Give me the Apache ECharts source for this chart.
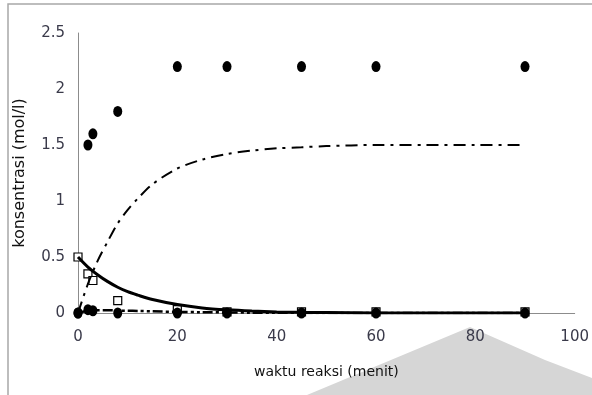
<!DOCTYPE html>
<html>
<head>
<meta charset="utf-8">
<script src="https://cdn.jsdelivr.net/npm/echarts@6/dist/echarts.min.js"></script>
<style>
  html, body { margin: 0; padding: 0; background: #fff; }
  #chart { width: 592px; height: 395px; }
</style>
</head>
<body>
<div id="chart"></div>
<script>
// waktu sampling (menit)
const waktu = [0, 2, 3, 8, 20, 30, 45, 60, 90];
// data eksperimen
const dataAtas = [0, 1.5, 1.6, 1.8, 2.2, 2.2, 2.2, 2.2, 2.2];
const dataKotak = [0.5, 0.35, 0.29, 0.11, 0.03, 0.01, 0.01, 0.01, 0.01];
const dataBawah = [0, 0.03, 0.02, 0, 0, 0, 0, 0, 0];
// kurva model
const waktuModel = [0, 2, 4, 6, 8, 10, 12, 15, 20, 25, 30, 35, 40, 45, 50, 60, 70, 80, 90];
const modelProduk = [0, 0.26, 0.47, 0.64, 0.8, 0.92, 1.02, 1.15, 1.29, 1.37, 1.42, 1.45, 1.47, 1.48, 1.49, 1.5, 1.5, 1.5, 1.5];
const modelReaktan = [0.5, 0.41, 0.34, 0.28, 0.23, 0.19, 0.16, 0.12, 0.075, 0.045, 0.028, 0.017, 0.01, 0.006, 0.004, 0.001, 0, 0, 0];
const modelAntara = [0, 0.02, 0.025, 0.025, 0.022, 0.02, 0.018, 0.015, 0.01, 0.007, 0.005, 0.003, 0.002, 0.001, 0, 0, 0, 0, 0];
const xTicks = [0, 20, 40, 60, 80, 100];
const yTicks = [0, 0.5, 1, 1.5, 2, 2.5];

const pasang = (xs, ys) => xs.map((x, i) => [x, ys[i]]);

const chart = echarts.init(document.getElementById('chart'));
const font = 'DejaVu Sans';

chart.setOption({
  animation: false,
  textStyle: { fontFamily: font },
  grid: { left: 78, right: 14, top: 33, bottom: 82 },
  graphic: [
    {
      type: 'polygon', z: -10, silent: true,
      shape: { points: [[307, 395], [470, 327], [545, 360], [592, 378], [592, 395]] },
      style: { fill: '#d6d6d6' }
    },
    {
      type: 'polyline', z: -5, silent: true,
      shape: { points: [[8, 395], [8, 4], [592, 4]] },
      style: { stroke: '#a8a8a8', lineWidth: 1.5, fill: null }
    }
  ],
  xAxis: {
    type: 'value', min: xTicks[0], max: xTicks[xTicks.length - 1], interval: 20,
    name: 'waktu reaksi (menit)', nameLocation: 'middle', nameGap: 52,
    nameTextStyle: { fontSize: 14, color: '#111', fontFamily: font },
    axisLine: { lineStyle: { color: '#8c8c8c', width: 1 } },
    axisTick: { show: false },
    splitLine: { show: false },
    axisLabel: { fontSize: 15, color: '#3a3a4a', margin: 17 }
  },
  yAxis: {
    type: 'value', min: yTicks[0], max: yTicks[yTicks.length - 1], interval: 0.5,
    name: 'konsentrasi (mol/l)', nameLocation: 'middle', nameGap: 50,
    nameTextStyle: { fontSize: 16, color: '#111', fontFamily: font },
    axisLine: { show: true, lineStyle: { color: '#8c8c8c', width: 1 } },
    axisTick: { show: false },
    splitLine: { show: false },
    axisLabel: { fontSize: 15, color: '#3a3a4a', margin: 13 }
  },
  series: [
    {
      type: 'line', data: pasang(waktuModel, modelProduk), smooth: 0.3, showSymbol: false,
      lineStyle: { color: '#000', width: 2, type: [12, 6, 3, 6] }
    },
    {
      type: 'line', data: pasang(waktuModel, modelReaktan), smooth: 0.3, showSymbol: false,
      lineStyle: { color: '#000', width: 3 }
    },
    {
      type: 'line', data: pasang(waktuModel, modelAntara), smooth: 0.3, showSymbol: false,
      lineStyle: { color: '#000', width: 2.5, type: [10, 3, 3, 3, 3, 3] }
    },
    {
      type: 'scatter', data: pasang(waktu, dataKotak), symbol: 'rect', symbolSize: 8,
      itemStyle: { color: '#fff', borderColor: '#000', borderWidth: 1.2, opacity: 1 }
    },
    {
      type: 'scatter', data: pasang(waktu, dataBawah), symbol: 'circle', symbolSize: [9, 11],
      itemStyle: { color: '#000', opacity: 1 }
    },
    {
      type: 'scatter', data: pasang(waktu, dataAtas), symbol: 'circle', symbolSize: [9, 11],
      itemStyle: { color: '#000', opacity: 1 }
    }
  ]
});
</script>
</body>
</html>
